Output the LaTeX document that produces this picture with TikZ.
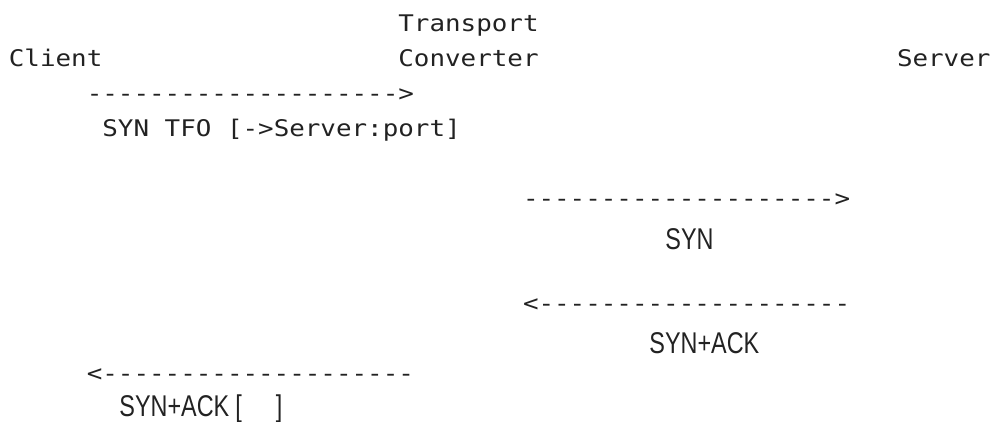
\documentclass[tikz,border=0pt]{standalone}
\usepackage{fontspec}
\usepackage{xcolor}
\newfontfamily\monofont[FakeStretch=1.13,Ligatures=TeXOff]{DejaVu Sans Mono}
\newfontfamily\narrowfont[FakeStretch=0.78]{Liberation Sans}
\definecolor{inkgray}{HTML}{222222}

\begin{document}
\begin{tikzpicture}[x=0.5pt, y=-0.5pt,
    mono/.style={anchor=base west, inner sep=0pt, text=inkgray, font=\monofont\fontsize{11.45}{14}\selectfont},
    lbl/.style={anchor=base west, inner sep=0pt, text=inkgray, font=\narrowfont\fontsize{15}{18}\selectfont}]
    \useasboundingbox (0,0) rectangle (992,422);

    % one text column is 15.58 wide, one text line 35 high
    \node[mono] (transport) at (398,32) {Transport};
    \node[mono] (client) at (8.5,67) {Client};
    \node[mono] (converter) at (398,67) {Converter};
    \node[mono] (server) at (896.6,67) {Server};

    \node[mono] (tfoarrow) at (86.4,102) {-------------------->};
    \node[mono] (tfolabel) at (102,137) {SYN TFO [->Server:port]};

    \node[mono] (synarrow) at (522.6,207) {-------------------->};
    \node[lbl] (synlabel) at (665,250) {SYN};

    \node[mono] (synackarrow) at (522.6,312) {<--------------------};
    \node[lbl] (synacklabel) at (649,354) {SYN+ACK};

    \node[mono] (backarrow) at (86.4,382) {<--------------------};
    \node[lbl] (backlabel) at (119,417) {SYN+ACK\hspace{3pt}[\hspace{17pt}]};
\end{tikzpicture}
\end{document}
